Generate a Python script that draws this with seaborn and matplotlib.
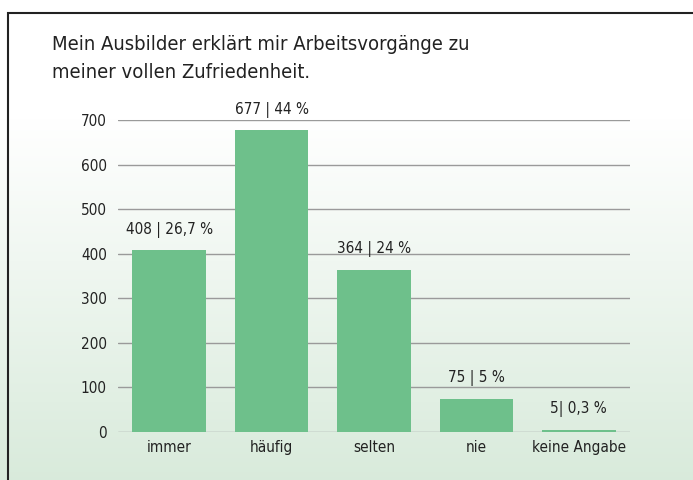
import numpy as np
import pandas as pd
import matplotlib
matplotlib.use("Agg")
import matplotlib.pyplot as plt
from matplotlib.patches import Rectangle
from matplotlib import font_manager
import seaborn as sns

categories = ["immer", "häufig", "selten", "nie", "keine Angabe"]
counts = [408, 677, 364, 75, 5]
bar_labels = ["408 | 26,7 %", "677 | 44 %", "364 | 24 %", "75 | 5 %", "5| 0,3 %"]
yticks = [0, 100, 200, 300, 400, 500, 600, 700]
title = "Mein Ausbilder erklärt mir Arbeitsvorgänge zu\nmeiner vollen Zufriedenheit."

sns.set_theme(style="white")
names = {f.name for f in font_manager.fontManager.ttflist}
fam = "Liberation Sans Narrow" if "Liberation Sans Narrow" in names else "DejaVu Sans"
plt.rcParams["font.family"] = [fam, "DejaVu Sans"]
plt.rcParams["font.stretch"] = "condensed"

fig = plt.figure(figsize=(6.93, 4.8), dpi=100)

# background gradient
bg = fig.add_axes([0, 0, 1, 1], zorder=-10)
grad = np.linspace(0, 1, 256).reshape(-1, 1)
top = np.array([1.0, 1.0, 1.0])
bot = np.array([0.85, 0.92, 0.86])
w = np.clip((grad - 0.25) / 0.75, 0, 1)
img = top * (1 - w[..., None]) + bot * w[..., None]
bg.imshow(img, aspect="auto", extent=[0, 1, 0, 1], origin="upper")
bg.add_patch(Rectangle((8 / 693, -0.1), 1.2, (480 - 13) / 480 + 0.1, transform=bg.transAxes,
                       fill=False, edgecolor="#222222", linewidth=1.5, clip_on=False))
bg.set_xlim(0, 1); bg.set_ylim(0, 1)
bg.axis("off")

ax = fig.add_axes([118 / 693, 1 - 432 / 480, (630 - 118) / 693, (432 - 120) / 480])
ax.patch.set_alpha(0)
df = pd.DataFrame({"cat": categories, "n": counts})
sns.barplot(data=df, x="cat", y="n", color="#6ec08b", saturation=1, width=0.72, ax=ax,
            zorder=3, linewidth=0, edgecolor="none")
ax.set_ylim(0, 700)
ax.set_xlim(-0.5, 4.5)
ax.set_yticks(yticks)
ax.yaxis.grid(True, color="#9a9a9a", linewidth=1)
ax.set_axisbelow(True)
for s in ax.spines.values():
    s.set_visible(False)
ax.set_xlabel("")
ax.set_ylabel("")
ax.tick_params(axis="both", length=0, labelsize=11, colors="#222222")
ax.tick_params(axis="y", pad=8)
ax.tick_params(axis="x", pad=6)

for i, (v, lab) in enumerate(zip(counts, bar_labels)):
    ax.annotate(lab, (i, v), xytext=(0, 9), textcoords="offset points",
                ha="center", va="bottom", fontsize=11, color="#222222", clip_on=False)

fig.text(52 / 693, 1 - 35 / 480, title, ha="left", va="top", fontsize=14.5,
         color="#222222", linespacing=1.6)

fig.savefig("out.png", dpi=100)
